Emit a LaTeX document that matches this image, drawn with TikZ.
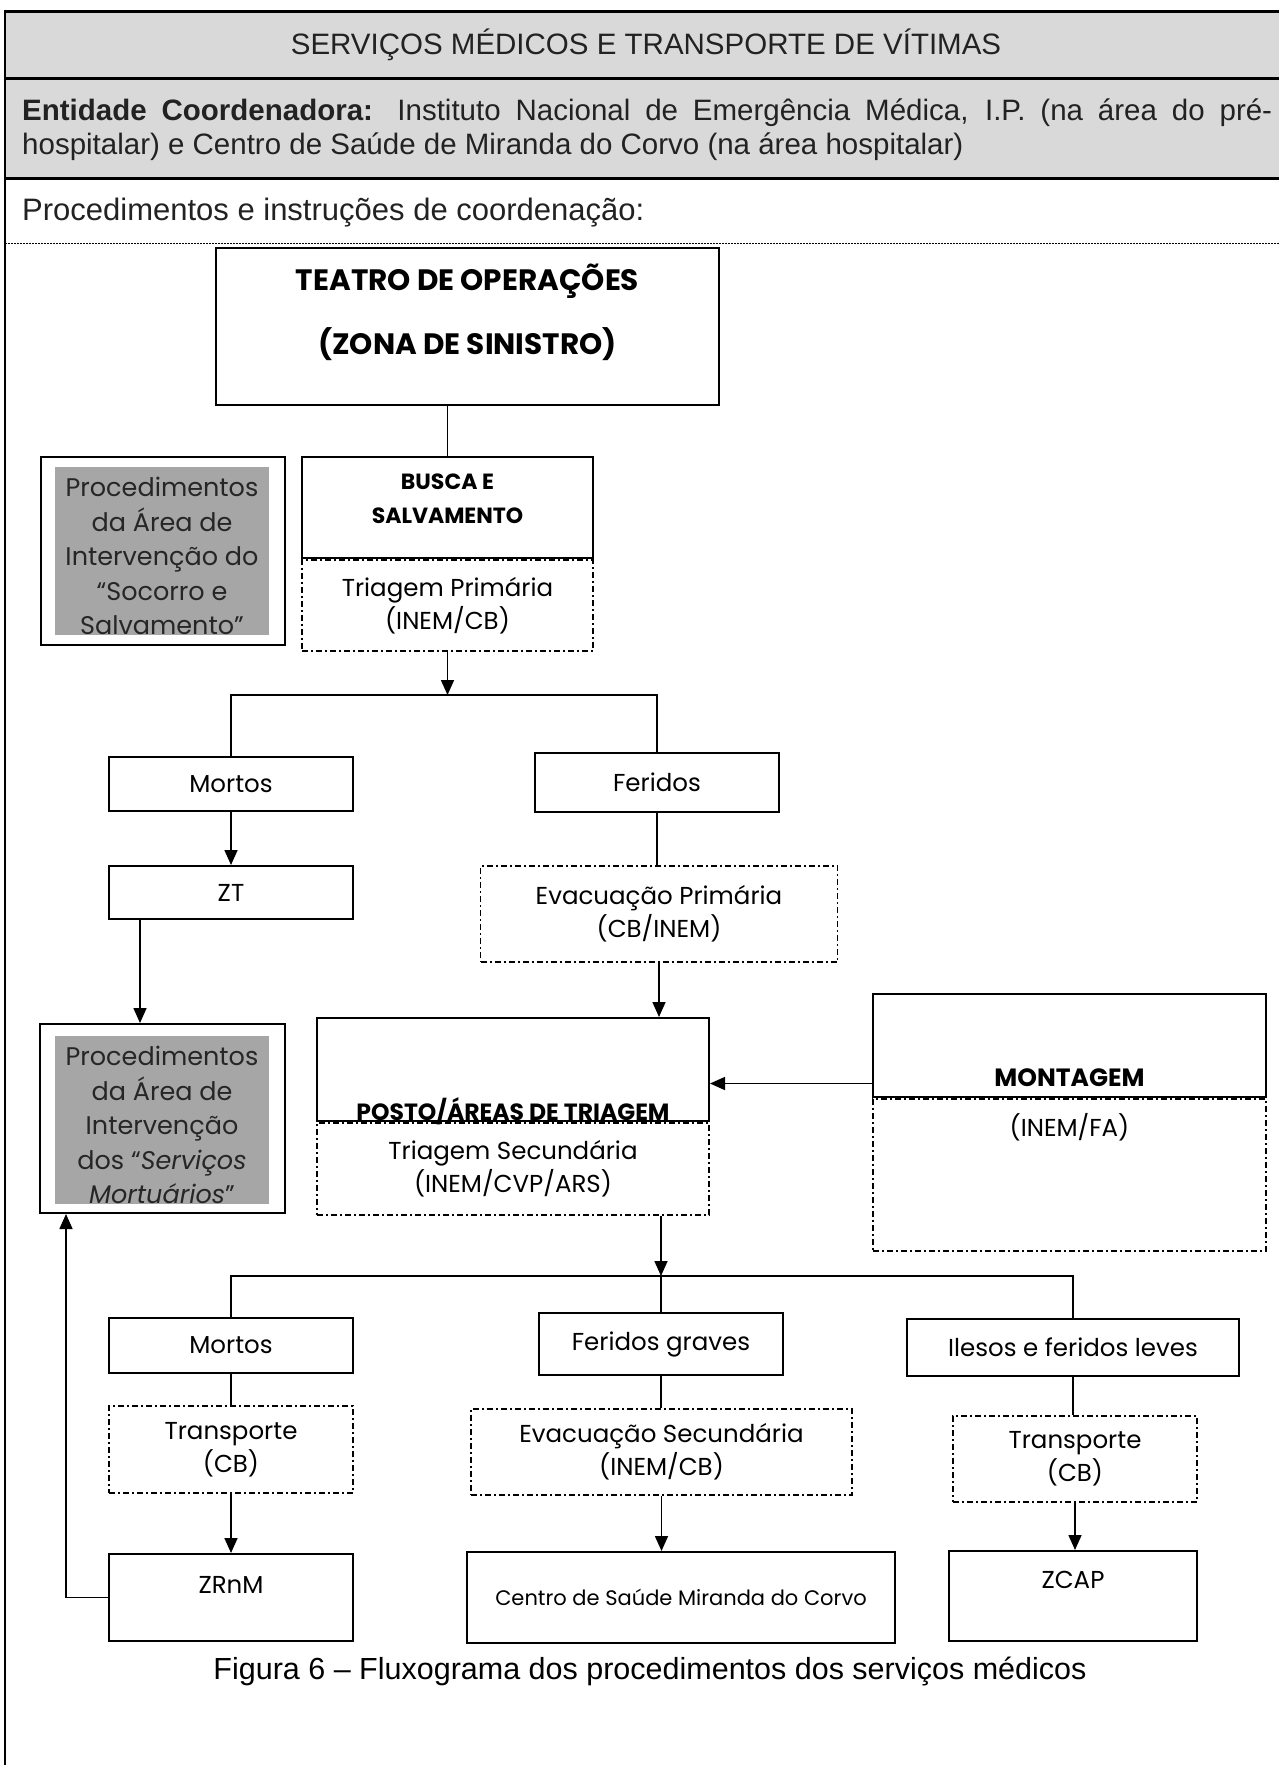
\documentclass[tikz,border=0pt]{standalone}
\usepackage{fontspec}
\setmainfont{Poppins}
\newfontfamily\cabfont{Liberation Sans}
\usetikzlibrary{positioning,arrows.meta}
\definecolor{cinzacab}{HTML}{D9D9D9}
\definecolor{cinzaproc}{HTML}{A6A6A6}
\definecolor{textocab}{HTML}{222222}

\begin{document}
\begin{tikzpicture}[
        x=1pt, y=-1pt,
        caixa/.style={draw, line width=2pt, align=center, inner sep=0pt, font=\fontsize{24.5}{33}\selectfont},
        tracejado/.style={caixa, line width=1.8pt, dash pattern=on 6pt off 3pt on 2pt off 3pt},
        titulo/.style={align=center, inner sep=0pt, font=\fontsize{22}{34}\selectfont\bfseries},
        texto/.style={align=center, inner sep=0pt, font=\fontsize{24.5}{33}\selectfont},
        proc/.style={align=center, inner sep=0pt, text=black!85, font=\fontsize{25.5}{34.5}\selectfont},
        cab/.style={inner sep=0pt, text=textocab, font=\cabfont\fontsize{29.5}{34}\selectfont},
        liga/.style={line width=1.6pt},
        seta/.style={liga, -{Triangle[length=15pt,width=13pt]}}
    ]
        \useasboundingbox (0,0) rectangle (1279,1765);
        % quadro do cabecalho
        \fill[cinzacab] (5,11) rectangle (1290,178);
        \draw[line width=3pt] (5,11) -- (1290,11) (5,78) -- (1290,78) (5,178) -- (1290,178);
        \draw[line width=2pt] (5,10) -- (5,1770);
        \draw[line width=0.8pt, dash pattern=on 2pt off 1pt] (5,243) -- (1290,243);
        \node[cab] (cabtitulo) at (646,45) {SERVIÇOS MÉDICOS E TRANSPORTE DE VÍTIMAS};
        \node[cab, anchor=north west, text width=1250pt, align=justify] (entidade) at (22,99)
            {\textbf{Entidade Coordenadora:} Instituto Nacional de Emergência Médica, I.P. (na área do pré-\linebreak hospitalar) e Centro de Saúde de Miranda do Corvo (na área hospitalar)};
        \node[cab, anchor=west, font=\cabfont\fontsize{31}{34}\selectfont] (instrucoes) at (22,213) {Procedimentos e instruções de coordenação:};

        % teatro de operacoes
        \node[caixa, minimum width=503, minimum height=157] (teatro) at (467.5,326.5) {};
        \node[titulo, font=\fontsize{29.5}{64}\selectfont\bfseries] (teatrotxt) at (467.5,312) {TEATRO DE OPERAÇÕES\\(ZONA DE SINISTRO)};
        \node[caixa, minimum width=291, minimum height=101] (busca) at (447.5,507.5) {};
        \node[titulo] (buscatxt) at (447.5,499) {BUSCA E\\SALVAMENTO};
        \node[tracejado, below=0pt of busca, minimum width=291, minimum height=91] (triagemp) {Triagem Primária\\(INEM/CB)};

        % socorro e salvamento
        \node[caixa, minimum width=244, minimum height=188] (socorro) at (163,551) {};
        \begin{scope}
            \clip (55,467) rectangle (269,635);
            \fill[cinzaproc] (55,467) rectangle (269,635);
            \node[proc] (socorrotxt) at (162,556) {Procedimentos\\da Área de\\Intervenção do\\“Socorro e\\Salvamento”};
        \end{scope}

        % primeira triagem
        \coordinate (j1) at (447.5,695);
        \node[caixa, minimum width=244, minimum height=54] (mortos1) at (231,784) {Mortos};
        \node[caixa, minimum width=244, minimum height=59] (feridos1) at (657,782.5) {Feridos};
        \node[caixa, minimum width=244, minimum height=53] (zt) at (231,892.5) {ZT};
        \node[tracejado, minimum width=357, minimum height=96] (evacp) at (659,914) {Evacuação Primária\\(CB/INEM)};

        % servicos mortuarios
        \node[caixa, minimum width=245, minimum height=189] (mortuarios) at (162.5,1118.5) {};
        \begin{scope}
            \clip (55,1036) rectangle (269,1204);
            \fill[cinzaproc] (55,1036) rectangle (269,1204);
            \node[proc] (mortuariostxt) at (162,1125) {Procedimentos\\da Área de\\Intervenção\\dos “\textit{Serviços}\\\textit{Mortuários}”};
        \end{scope}

        % posto de triagem e montagem
        \node[caixa, minimum width=392, minimum height=103] (posto) at (513,1069.5) {};
        \node[titulo, anchor=base, font=\fontsize{23.5}{34}\selectfont\bfseries] (postotxt) at ([yshift=2pt]posto.south) {POSTO/ÁREAS DE TRIAGEM};
        \node[tracejado, below=0pt of posto, minimum width=392, minimum height=92] (triagems) {Triagem Secundária\\(INEM/CVP/ARS)};
        \node[caixa, minimum width=393, minimum height=103] (montagem) at (1069.5,1045.5) {};
        \node[titulo, font=\fontsize{25}{34}\selectfont\bfseries] (montagemtxt) at (1069.5,1078) {MONTAGEM};
        \node[tracejado, below=0pt of montagem, minimum width=393, minimum height=152] (montagemfa) {};
        \node[texto] (inemfa) at (1069.5,1127) {(INEM/FA)};

        % segunda triagem
        \coordinate (j2) at (661,1276);
        \node[caixa, minimum width=244, minimum height=55] (mortos2) at (231,1345.5) {Mortos};
        \node[caixa, minimum width=244, minimum height=62] (feridosg) at (661,1344) {Feridos graves};
        \node[caixa, minimum width=332, minimum height=57] (ilesos) at (1073,1347.5) {Ilesos e feridos leves};
        \node[tracejado, minimum width=244, minimum height=87] (transp1) at (231,1449.5) {Transporte\\(CB)};
        \node[tracejado, minimum width=381, minimum height=86] (evacs) at (661.5,1452) {Evacuação Secundária\\(INEM/CB)};
        \node[tracejado, minimum width=244, minimum height=86] (transp2) at (1075,1459) {Transporte\\(CB)};
        \node[caixa, minimum width=244, minimum height=87] (zrnm) at (231,1597.5) {};
        \node[texto] (zrnmtxt) at (231,1585) {ZRnM};
        \node[caixa, minimum width=428, minimum height=91, font=\fontsize{21}{24}\selectfont] (centro) at (681,1597.5) {Centro de Saúde Miranda do Corvo};
        \node[caixa, minimum width=248, minimum height=90] (zcap) at (1073,1596) {};
        \node[texto] (zcaptxt) at (1073,1580) {ZCAP};

        \node[cab, text=black, font=\cabfont\fontsize{30.5}{34}\selectfont] (legenda) at (650,1671) {Figura 6 – Fluxograma dos procedimentos dos serviços médicos};

        % ligacoes
        \draw[liga] (busca.north) -- (busca.north |- teatro.south);
        \draw[seta] (triagemp.south) -- (j1);
        \draw[liga] (mortos1.north) -- (mortos1.north |- j1) -- (feridos1.north |- j1) -- (feridos1.north);
        \draw[seta] (mortos1.south) -- (zt.north);
        \draw[seta] ([xshift=-91pt]zt.south) -- ([xshift=-91pt]zt.south |- mortuarios.north);
        \draw[liga] (feridos1.south) -- (feridos1.south |- evacp.north);
        \draw[seta] (evacp.south) -- (evacp.south |- posto.north);
        \draw[seta] ([yshift=-38pt]montagem.west) -- ([yshift=-38pt]montagem.west -| posto.east);
        \draw[seta] (j2 |- triagems.south) -- (j2);
        \draw[liga] (mortos2.north) -- (mortos2.north |- j2) -- (ilesos.north |- j2) -- (ilesos.north);
        \draw[liga] (j2) -- (feridosg.north);
        \draw[liga] (mortos2.south) -- (transp1.north);
        \draw[liga] (feridosg.south) -- (feridosg.south |- evacs.north);
        \draw[liga] (ilesos.south) -- (ilesos.south |- transp2.north);
        \draw[seta] (transp1.south) -- (zrnm.north);
        \draw[seta] (evacs.south) -- (evacs.south |- centro.north);
        \draw[seta] (transp2.south) -- (transp2.south |- zcap.north);
        \draw[seta] (zrnm.west) -| ([xshift=27pt]mortuarios.south west);
    \end{tikzpicture}
\end{document}
